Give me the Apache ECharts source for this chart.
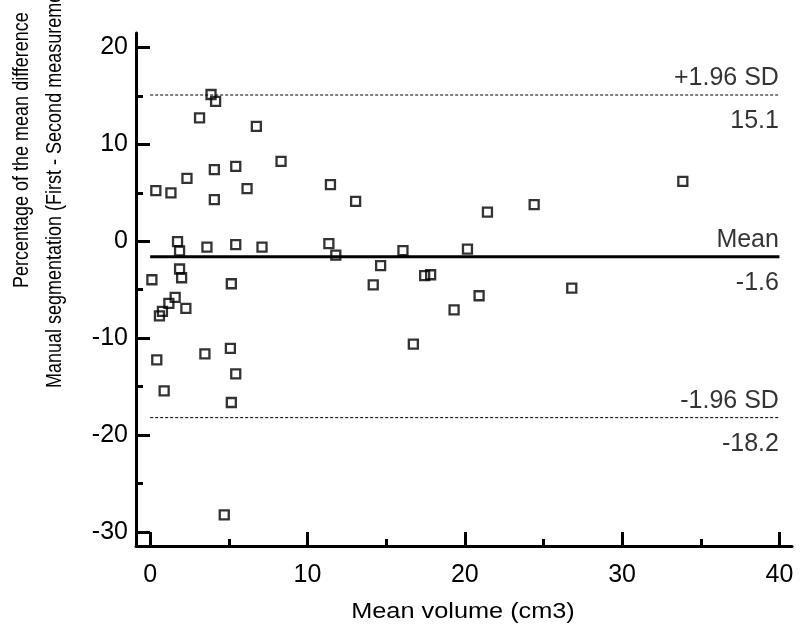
<!DOCTYPE html>
<html>
<head>
<meta charset="utf-8">
<script src="https://cdn.jsdelivr.net/npm/echarts@6/dist/echarts.min.js"></script>
<style>
html,body{margin:0;padding:0;background:#fff;}
#chart{width:800px;height:641px;}
</style>
</head>
<body>
<div id="chart"></div>
<script>
// Mean volume (cm3)
const meanVolume = [
  3.87, 4.16, 3.14, 6.75, 8.32, 5.44, 4.08, 2.34, 0.36, 1.32,
  6.16, 4.08, 11.46, 13.06, 1.74, 1.87, 3.61, 5.44, 7.11, 11.36,
  11.8, 33.86, 24.41, 21.44, 16.07, 20.17, 14.65, 17.45, 17.83, 20.91,
  19.32, 26.8, 16.73, 14.18, 0.11, 1.87, 2.0, 5.16, 1.59, 1.19,
  0.78, 0.59, 2.27, 0.42, 3.48, 5.10, 5.44, 0.89, 5.16, 4.71
];
// Percentage of the mean difference
const pctDifference = [
  15.15, 14.45, 12.74, 11.87, 8.25, 7.74, 7.40, 6.5, 5.23, 4.99,
  5.43, 4.30, 5.85, 4.12, -0.04, -1.0, -0.6, -0.35, -0.6, -0.25,
  -1.42, 6.19, 3.78, 3.02, -0.97, -0.8, -2.52, -3.55, -3.45, -5.62,
  -7.07, -4.83, -10.61, -4.5, -3.97, -2.86, -3.76, -4.38, -5.79, -6.41,
  -7.24, -7.69, -6.93, -12.23, -11.61, -11.06, -13.68, -15.43, -16.64, -28.24
];
// Reference lines
const refNames = ['+1.96 SD', 'Mean', '-1.96 SD'];
const refValues = [15.1, -1.6, -18.2];
const refValueLabels = ['15.1', '-1.6', '-18.2'];
const refXRange = [0, 40];
// Axis ticks
const xMajorTicks = [0, 10, 20, 30, 40];
const xMinorTicks = [5, 15, 25, 35];
const yMajorTicks = [-30, -20, -10, 0, 10, 20];
const yMinorTicks = [-25, -15, -5, 5, 15];

const FONT = '"Liberation Sans", Arial, sans-serif';
const chart = echarts.init(document.getElementById('chart'), null, {renderer: 'canvas'});

const xRange = {min: -0.9, max: 40.8};
const yRange = {min: -31.45, max: 21.5};

const points = meanVolume.map((x, i) => [x, pctDifference[i]]);

const series = [];
series.push({
  type: 'scatter',
  data: points,
  symbol: 'rect',
  symbolSize: 9,
  itemStyle: {color: 'rgba(0,0,0,0)', borderColor: '#000', borderWidth: 2.3},
  z: 5
});
refValues.forEach((v, i) => {
  const isMean = refNames[i] === 'Mean';
  series.push({
    type: 'line',
    data: refXRange.map(x => [x, v]),
    symbol: 'none',
    lineStyle: isMean ? {color: '#000', width: 3, type: 'solid'} : {color: '#000', width: 1, type: [3, 2]},
    z: 3
  });
});
series.push({
  type: 'scatter',
  data: refValues.map((v, i) => ({value: [refXRange[1], v], name: refNames[i]})),
  symbolSize: 1,
  itemStyle: {color: 'rgba(0,0,0,0)'},
  label: {show: true, position: 'left', distance: 0, offset: [0, -17],
    formatter: p => p.name, color: '#000', fontSize: 25, fontFamily: FONT}
});
series.push({
  type: 'scatter',
  data: refValues.map((v, i) => ({value: [refXRange[1], v], name: refValueLabels[i]})),
  symbolSize: 1,
  itemStyle: {color: 'rgba(0,0,0,0)'},
  label: {show: true, position: 'left', distance: 0, offset: [0, 26],
    formatter: p => p.name, color: '#000', fontSize: 25, fontFamily: FONT}
});

const option = {
  backgroundColor: '#fff',
  animation: false,
  grid: {left: 136, right: 8, top: 33, bottom: 95, containLabel: false},
  xAxis: [
    {
      type: 'value', position: 'bottom', min: xRange.min, max: xRange.max,
      axisLine: {show: true, onZero: false, lineStyle: {color: '#000', width: 3}},
      axisTick: {show: true, inside: true, length: 14, customValues: xMajorTicks, lineStyle: {color: '#000', width: 3}},
      axisLabel: {show: true, customValues: xMajorTicks, margin: 17, color: '#000', fontSize: 25, fontFamily: FONT},
      splitLine: {show: false}
    },
    {
      type: 'value', position: 'bottom', offset: 0, min: xRange.min, max: xRange.max,
      axisLine: {show: false, onZero: false},
      axisTick: {show: true, inside: true, length: 7, customValues: xMinorTicks, lineStyle: {color: '#000', width: 3}},
      axisLabel: {show: false},
      splitLine: {show: false}
    }
  ],
  yAxis: [
    {
      type: 'value', position: 'left', min: yRange.min, max: yRange.max,
      axisLine: {show: true, onZero: false, lineStyle: {color: '#000', width: 3}},
      axisTick: {show: true, inside: true, length: 14, customValues: yMajorTicks, lineStyle: {color: '#000', width: 3}},
      axisLabel: {show: true, customValues: yMajorTicks, margin: 8, color: '#000', fontSize: 25, fontFamily: FONT},
      splitLine: {show: false}
    },
    {
      type: 'value', position: 'left', offset: 0, min: yRange.min, max: yRange.max,
      axisLine: {show: false, onZero: false},
      axisTick: {show: true, inside: true, length: 7, customValues: yMinorTicks, lineStyle: {color: '#000', width: 3}},
      axisLabel: {show: false},
      splitLine: {show: false}
    }
  ],
  graphic: [
    {type: 'text', x: 463, y: 612, scaleX: 1.15, style: {text: 'Mean volume (cm3)', font: '22px ' + FONT, fill: '#000', textAlign: 'center', textVerticalAlign: 'middle'}},
    {type: 'text', x: 22, y: 288, rotation: Math.PI / 2, scaleY: 1.23, style: {text: 'Percentage of the mean difference', font: '18px ' + FONT, fill: '#000', textAlign: 'left', textVerticalAlign: 'middle'}},
    {type: 'text', x: 55, y: 388, rotation: Math.PI / 2, scaleY: 1.23, style: {text: 'Manual segmentation (First - Second measurement)', font: '18px ' + FONT, fill: '#000', textAlign: 'left', textVerticalAlign: 'middle'}}
  ],
  series: series
};
chart.setOption(option);
</script>
</body>
</html>
